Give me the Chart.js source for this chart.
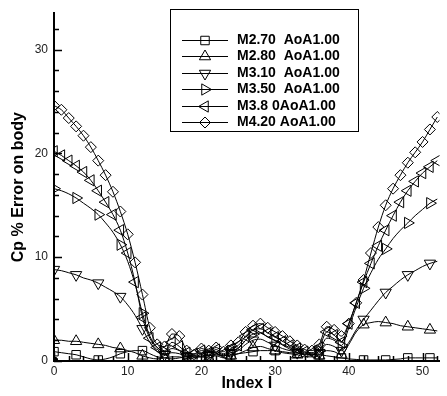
<!DOCTYPE html>
<html>
<head>
<meta charset="utf-8">
<script src="https://cdn.jsdelivr.net/npm/chart.js@4.4.0/dist/chart.umd.min.js"></script>
<style>
  body { margin: 0; background: #fff; }
  #wrap { width: 447px; height: 396px; }
</style>
</head>
<body>
<div id="wrap"><canvas id="grafico" width="447" height="396"></canvas></div>
<script>
// Indice I del cuerpo (eje x)
const indices = [0, 1, 2, 3, 4, 5, 6, 7, 8, 9, 10, 11, 12, 13, 14, 15, 16, 17, 18, 19, 20,
  21, 22, 23, 24, 25, 26, 27, 28, 29, 30, 31, 32, 33, 34, 35, 36, 37, 38, 39, 40,
  41, 42, 43, 44, 45, 46, 47, 48, 49, 50, 51, 52];

// Error de Cp en % para cada caso
const m270 = [0.9, 0.8, 0.7, 0.6, 0.4, 0.2, 0.1, 0.2, 0.4, 0.7, 0.9, 1.0, 1.0, 0.7, 0.4, 0.3, 0.2, 0.3, 0.4, 0.5, 0.4,
  0.5, 0.6, 0.5, 0.6, 0.7, 0.8, 0.9, 1.0, 1.0, 1.0, 0.9, 0.8, 0.75, 0.7, 0.6, 0.6, 0.5, 0.4, 0.3, 0.2,
  0.15, 0.1, 0.1, 0.1, 0.1, 0.15, 0.2, 0.3, 0.3, 0.3, 0.3, 0.3];
const m280 = [2.0, 2.0, 1.9, 1.9, 1.8, 1.7, 1.6, 1.5, 1.3, 1.2, 1.0, 0.8, 0.5, 0.3, 0.2, 0.3, 0.4, 0.4, 0.2, 0.3, 0.4,
  0.3, 0.5, 0.3, 0.5, 0.7, 1.0, 1.3, 1.4, 1.2, 1.0, 0.8, 0.7, 0.6, 0.4, 0.4, 0.5, 1.0, 0.9, 0.6, 1.6,
  2.8, 3.5, 3.7, 3.8, 3.7, 3.6, 3.4, 3.3, 3.2, 3.1, 3.0, 2.9];
const m310 = [8.8, 8.7, 8.5, 8.3, 8.0, 7.8, 7.5, 7.1, 6.7, 6.2, 5.4, 4.4, 3.1, 1.8, 0.9, 0.6, 0.8, 0.7, 0.4, 0.4, 0.6,
  0.5, 0.7, 0.5, 0.8, 1.0, 1.6, 2.0, 2.1, 1.8, 1.5, 1.2, 1.0, 0.8, 0.6, 0.6, 0.8, 1.6, 1.4, 1.0, 1.8,
  3.0, 4.0, 4.9, 5.8, 6.6, 7.2, 7.8, 8.3, 8.7, 9.1, 9.4, 9.6];
const m350 = [16.6, 16.4, 16.1, 15.7, 15.2, 14.7, 14.1, 13.3, 12.4, 11.2, 9.6, 7.4, 4.6, 2.4, 1.3, 0.9, 1.2, 1.0, 0.6, 0.5, 0.8,
  0.6, 0.9, 0.6, 1.0, 1.2, 2.0, 2.6, 2.7, 2.3, 2.0, 1.6, 1.3, 1.0, 0.8, 0.7, 1.0, 2.2, 2.0, 1.5, 3.2,
  5.2, 7.0, 8.5, 9.8, 10.8, 11.8, 12.6, 13.3, 14.0, 14.6, 15.2, 15.6];
const m380 = [20.2, 19.8, 19.3, 18.8, 18.2, 17.4, 16.4, 15.3, 14.1, 12.6, 10.4, 7.6, 4.2, 2.2, 1.3, 1.0, 1.8, 1.4, 0.8, 0.7, 1.0,
  0.8, 1.1, 0.7, 1.2, 1.5, 2.4, 3.0, 3.1, 2.7, 2.3, 1.9, 1.5, 1.2, 0.9, 0.8, 1.3, 2.8, 2.5, 1.8, 3.6,
  5.6, 7.6, 9.4, 11.1, 12.6, 14.0, 15.3, 16.4, 17.3, 18.1, 18.7, 19.3];
const m420 = [24.6, 24.2, 23.4, 22.6, 21.7, 20.6, 19.3, 17.9, 16.3, 14.4, 12.2, 9.5, 6.4, 3.2, 1.6, 1.4, 2.6, 2.4, 1.0, 0.6, 1.2,
  1.0, 1.3, 0.9, 1.5, 1.8, 2.8, 3.4, 3.6, 3.2, 2.8, 2.4, 1.9, 1.5, 1.1, 1.0, 1.6, 3.3, 3.0, 2.4, 3.6,
  5.6, 7.8, 10.4, 12.9, 15.0, 16.6, 17.9, 19.1, 20.1, 21.1, 22.3, 23.5];

// Punto negro en el origen
const origen = [0, 0];

const etiquetas = ['M2.70  AoA1.00', 'M2.80  AoA1.00', 'M3.10  AoA1.00',
  'M3.50  AoA1.00', 'M3.8 0AoA1.00', 'M4.20 AoA1.00'];

// Marcas de los ejes
const ticksX = [0, 10, 20, 30, 40, 50];
const ticksY = [0, 10, 20, 30];

const FUENTE = "'Liberation Sans', Arial, sans-serif";

// Estilo de cada serie: forma del marcador, rotacion y cada cuantos puntos se dibuja
const series = [
  { label: etiquetas[0], data: m270, estilo: 'rect', rot: 0, radio: 6, salto: 3 },
  { label: etiquetas[1], data: m280, estilo: 'triangle', rot: 0, radio: 6.5, salto: 3 },
  { label: etiquetas[2], data: m310, estilo: 'triangle', rot: 180, radio: 6.5, salto: 3 },
  { label: etiquetas[3], data: m350, estilo: 'triangle', rot: 90, radio: 6.5, salto: 3 },
  { label: etiquetas[4], data: m380, estilo: 'triangle', rot: -90, radio: 6.5, salto: 1 },
  { label: etiquetas[5], data: m420, estilo: 'rectRot', rot: 0, radio: 5.5, salto: 1 }
];

const datasets = series.map(s => ({
  label: s.label,
  data: indices.map((x, i) => ({ x: x, y: s.data[i] })),
  borderColor: '#000',
  borderWidth: 1,
  backgroundColor: 'rgba(0,0,0,0)',
  pointStyle: s.estilo,
  rotation: s.rot,
  pointRadius: ctx => (ctx.dataIndex % s.salto === 0 ? s.radio : 0),
  pointBorderWidth: 1,
  pointBorderColor: '#000',
  pointBackgroundColor: 'rgba(0,0,0,0)',
  cubicInterpolationMode: 'monotone',
  fill: false
}));

datasets.push({
  label: 'origen',
  data: [{ x: origen[0], y: origen[1] }],
  showLine: false,
  pointStyle: 'circle',
  pointRadius: 4,
  pointBackgroundColor: '#000',
  pointBorderColor: '#000'
});

// Dibuja ticks hacia adentro, titulos de ejes y la leyenda en recuadro
const extras = {
  id: 'extras',
  afterDraw(chart) {
    const ctx = chart.ctx;
    const xs = chart.scales.x;
    const ys = chart.scales.y;
    const area = chart.chartArea;
    ctx.save();
    ctx.strokeStyle = '#000';
    ctx.lineWidth = 1.5;
    ctx.beginPath();
    for (let v = 0; v <= 52; v += 2) {
      const px = Math.round(xs.getPixelForValue(v)) + 0.5;
      const len = v % 10 === 0 ? 8 : 5;
      ctx.moveTo(px, area.bottom);
      ctx.lineTo(px, area.bottom - len);
    }
    for (let v = 0; v <= 33; v += 2) {
      const py = Math.round(ys.getPixelForValue(v)) + 0.5;
      const len = v % 10 === 0 ? 8 : 5;
      ctx.moveTo(area.left, py);
      ctx.lineTo(area.left + len, py);
    }
    ctx.stroke();

    // Titulos
    ctx.fillStyle = '#000';
    ctx.font = 'bold 16px ' + FUENTE;
    ctx.textAlign = 'center';
    ctx.textBaseline = 'middle';
    ctx.fillText('Index I', (area.left + area.right) / 2, 384);
    ctx.save();
    ctx.translate(19, (area.top + area.bottom) / 2);
    ctx.rotate(-Math.PI / 2);
    ctx.fillText('Cp % Error on body', 0, 0);
    ctx.restore();

    // Leyenda
    ctx.fillStyle = '#fff';
    ctx.fillRect(170, 9, 188, 122);
    ctx.lineWidth = 1;
    ctx.strokeRect(170.5, 9.5, 188, 122);
    ctx.font = 'bold 14px ' + FUENTE;
    ctx.textAlign = 'left';
    series.forEach((s, i) => {
      const y = Math.round(40 + i * 16.4) + 0.5;
      ctx.strokeStyle = '#000';
      ctx.lineWidth = 1;
      ctx.beginPath();
      ctx.moveTo(182, y);
      ctx.lineTo(228, y);
      ctx.stroke();
      ctx.fillStyle = 'rgba(0,0,0,0)';
      Chart.helpers.drawPoint(ctx, {
        pointStyle: s.estilo, radius: s.radio, rotation: s.rot, borderWidth: 1
      }, 205, y);
      ctx.fillStyle = '#000';
      ctx.fillText(s.label, 237, y);
    });
    ctx.restore();
  }
};

new Chart(document.getElementById('grafico').getContext('2d'), {
  type: 'line',
  data: { datasets: datasets },
  options: {
    responsive: false,
    animation: false,
    layout: { padding: { left: 0, top: 7, right: 6, bottom: 0 } },
    plugins: { legend: { display: false }, tooltip: { enabled: false } },
    scales: {
      x: {
        type: 'linear',
        min: 0,
        max: 52.3,
        afterFit: scale => { scale.height = 35; },
        grid: { display: false, drawTicks: false },
        border: { display: true, color: '#000', width: 2 },
        ticks: {
          stepSize: 10,
          includeBounds: false,
          padding: 3,
          color: '#222',
          font: { family: FUENTE, size: 12 },
          callback: v => (ticksX.includes(v) ? String(v) : '')
        }
      },
      y: {
        type: 'linear',
        min: 0,
        max: 33.5,
        afterFit: scale => { scale.width = 54; },
        grid: { display: false, drawTicks: false },
        border: { display: true, color: '#000', width: 2 },
        ticks: {
          stepSize: 10,
          includeBounds: false,
          padding: 6,
          color: '#222',
          font: { family: FUENTE, size: 12 },
          callback: v => (ticksY.includes(v) ? String(v) : '')
        }
      }
    }
  },
  plugins: [extras]
});
</script>
</body>
</html>
